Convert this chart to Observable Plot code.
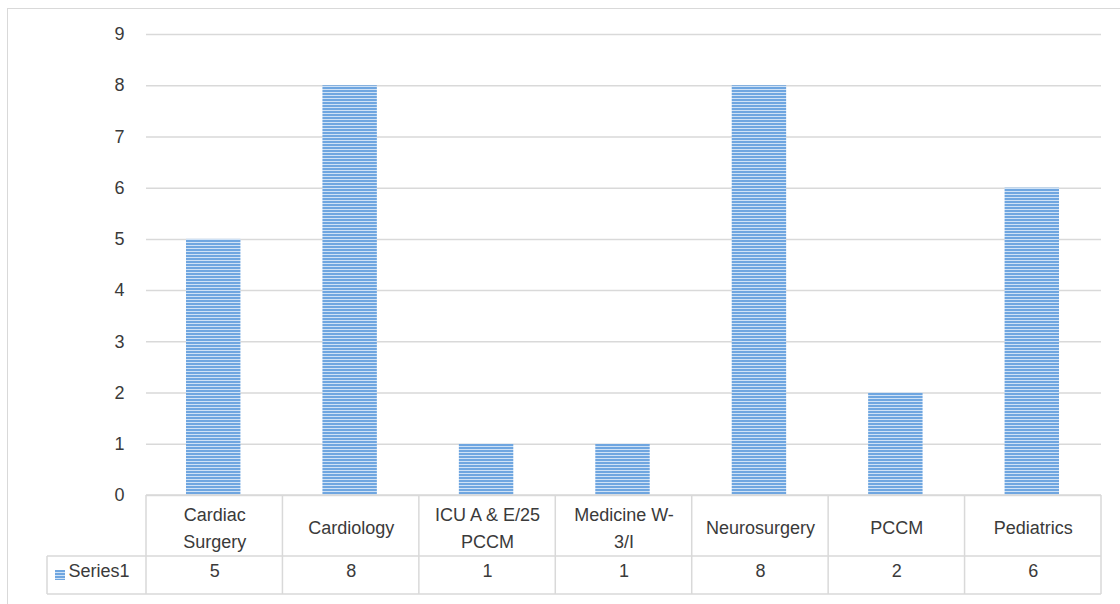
<!DOCTYPE html>
<html>
<head>
<meta charset="utf-8">
<script src="https://cdn.jsdelivr.net/npm/d3@7"></script>
<script src="https://cdn.jsdelivr.net/npm/@observablehq/plot@0.6"></script>
<style>
  html, body { margin: 0; padding: 0; background: #fff; }
  #wrap { position: relative; width: 1120px; height: 604px; overflow: hidden; }
  #frame { position: absolute; left: 7px; top: 8px; width: 1130px; height: 610px; border: 1.5px solid #d9d9d9; box-sizing: border-box; }
  #chart { position: absolute; left: 0; top: 0; }
</style>
</head>
<body>
<div id="wrap"><div id="frame"></div><div id="chart"></div></div>
<script>
const categories = ["Cardiac Surgery", "Cardiology", "ICU A & E/25 PCCM", "Medicine W-3/I", "Neurosurgery", "PCCM", "Pediatrics"];
const headerLabels = ["Cardiac\nSurgery", "Cardiology", "ICU A & E/25\nPCCM", "Medicine W-\n3/I", "Neurosurgery", "PCCM", "Pediatrics"];
const series1 = [5, 8, 1, 1, 8, 2, 6];
const seriesName = "Series1";
const yTicks = [0, 1, 2, 3, 4, 5, 6, 7, 8, 9];

const data = categories.map((c, i) => ({category: c, value: series1[i], header: headerLabels[i]}));

const FONT = "Liberation Sans, Arial, sans-serif";
const TEXT = "#3a3a3a";
const LINE = "#d9d9d9";
const FS = 18;

function tableMark(index, scales, values, dimensions) {
  const x = scales.x;
  const bw = x.bandwidth();
  const left = dimensions.marginLeft;
  const right = dimensions.width - dimensions.marginRight;
  const top = dimensions.height - dimensions.marginBottom;
  const rowSplit = top + 61;
  const bottom = top + 99;
  const labelLeft = 47;
  const g = d3.create("svg:g").attr("stroke", LINE).attr("stroke-width", 1.5).attr("fill", "none");
  g.append("line").attr("x1", left).attr("x2", right).attr("y1", top).attr("y2", top);
  g.append("line").attr("x1", labelLeft).attr("x2", right).attr("y1", rowSplit).attr("y2", rowSplit);
  g.append("line").attr("x1", labelLeft).attr("x2", right).attr("y1", bottom).attr("y2", bottom);
  g.append("line").attr("x1", labelLeft).attr("x2", labelLeft).attr("y1", rowSplit).attr("y2", bottom);
  const bounds = [x(categories[0]), ...categories.map(c => x(c) + bw)];
  for (const b of bounds) {
    g.append("line").attr("x1", b).attr("x2", b).attr("y1", top).attr("y2", bottom);
  }
  g.append("rect").attr("x", 55).attr("y", rowSplit + 14).attr("width", 10).attr("height", 10)
    .attr("stroke", "none").attr("fill", "url(#stripes)");
  return g.node();
}

const plot = Plot.plot({
  width: 1120,
  height: 604,
  marginLeft: 146,
  marginRight: 19,
  marginTop: 34,
  marginBottom: 109,
  style: {fontFamily: FONT, fontSize: FS + "px", color: TEXT, background: "transparent"},
  x: {domain: categories, padding: 0, round: false, axis: null},
  y: {domain: [0, 9]},
  marks: [
    Plot.gridY(yTicks, {stroke: LINE, strokeOpacity: 1, strokeWidth: 1.5}),
    Plot.axisY(yTicks, {tickSize: 0, tickPadding: 22, fontSize: FS, fill: TEXT, tickFormat: d => String(d), label: null}),
    Plot.barY(data, {x: "category", y: "value", fill: "url(#stripes)", insetLeft: 40, insetRight: 42}),
    tableMark,
    Plot.text(data, {x: "category", text: "header", frameAnchor: "bottom", dy: 30, lineAnchor: "middle", lineHeight: 1.5, fontSize: FS, fill: TEXT}),
    Plot.text(data, {x: "category", text: d => String(d.value), frameAnchor: "bottom", dy: 81, fontSize: FS, fill: TEXT}),
    Plot.text([seriesName], {text: d => d, frameAnchor: "bottom-left", dx: -78, dy: 81, textAnchor: "start", fontSize: FS, fill: TEXT})
  ]
});

plot.insertAdjacentHTML("afterbegin",
  '<defs><pattern id="stripes" patternUnits="userSpaceOnUse" width="6" height="3">' +
  '<rect width="6" height="3" fill="#6fa6e0"></rect>' +
  '<rect y="2" width="6" height="1" fill="#cfe2f6"></rect>' +
  '</pattern></defs>');

document.getElementById("chart").appendChild(plot);
</script>
</body>
</html>
